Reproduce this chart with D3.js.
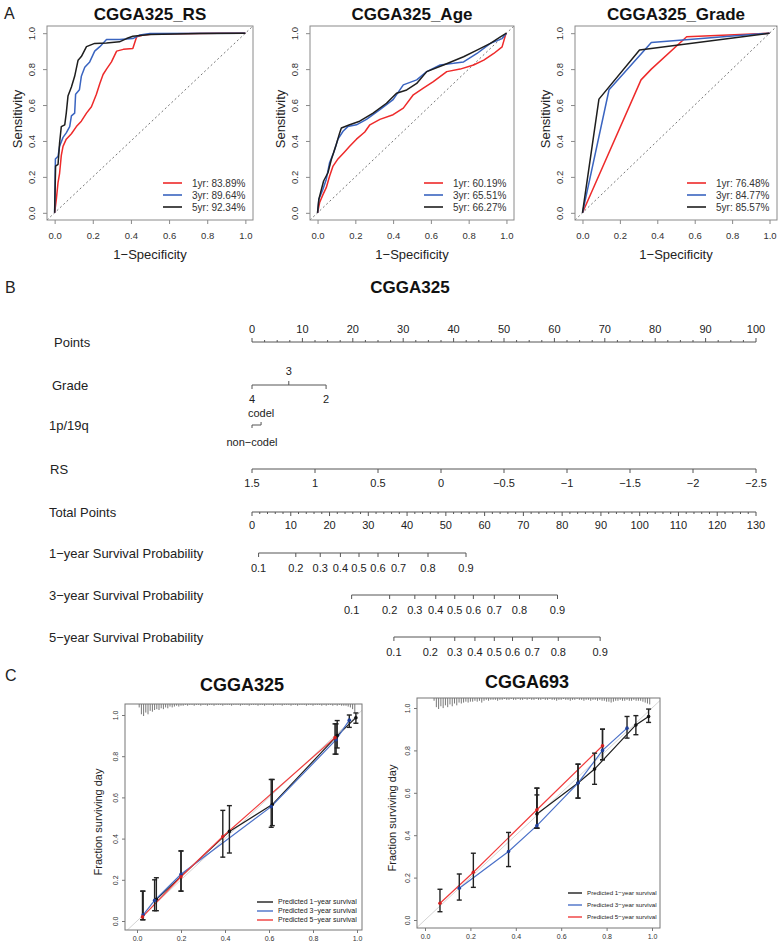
<!DOCTYPE html>
<html><head><meta charset="utf-8">
<script src="https://cdn.jsdelivr.net/npm/d3@7"></script>
<style>
body{margin:0;background:#fff}
svg{display:block}
</style>
</head><body>
<svg id="c" width="782" height="948"></svg>
<script>
// ---------------- DATA ----------------
// Panel A: ROC curves [1-specificity, sensitivity]
const rocYears = ["1yr","3yr","5yr"];
const rocColors = ["#ee2a2a","#3a64c0","#1e1e1e"];
const rocTitles = ["CGGA325_RS","CGGA325_Age","CGGA325_Grade"];
const aucRS = [83.89, 89.64, 92.34];
const aucAge = [60.19, 65.51, 66.27];
const aucGrade = [76.48, 84.77, 85.57];
const rocRS1 = [[0,0],[0.009,0.076],[0.018,0.17],[0.026,0.22],[0.035,0.32],[0.044,0.37],[0.061,0.41],[0.088,0.44],[0.114,0.48],[0.14,0.51],[0.167,0.555],[0.193,0.59],[0.219,0.66],[0.237,0.72],[0.254,0.77],[0.272,0.80],[0.298,0.84],[0.325,0.90],[0.36,0.91],[0.41,0.915],[0.43,0.98],[0.465,0.99],[0.52,0.996],[0.86,1.0],[1,1]];
const rocRS3 = [[0,0],[0.004,0.30],[0.018,0.315],[0.026,0.37],[0.044,0.42],[0.061,0.445],[0.079,0.48],[0.088,0.54],[0.105,0.555],[0.11,0.66],[0.13,0.685],[0.14,0.76],[0.158,0.81],[0.184,0.84],[0.21,0.90],[0.237,0.925],[0.272,0.965],[0.34,0.965],[0.41,0.97],[0.447,0.99],[0.5,0.998],[1,1]];
const rocRS5 = [[0,0],[0.005,0.26],[0.018,0.27],[0.026,0.39],[0.035,0.48],[0.053,0.49],[0.061,0.555],[0.07,0.65],[0.088,0.70],[0.105,0.76],[0.123,0.85],[0.14,0.87],[0.167,0.925],[0.21,0.943],[0.272,0.946],[0.34,0.952],[0.377,0.97],[0.41,0.983],[0.5,0.993],[0.76,0.998],[1,1]];
const rocAge1 = [[0,0],[0.011,0.057],[0.028,0.10],[0.046,0.14],[0.064,0.205],[0.082,0.26],[0.108,0.30],[0.144,0.34],[0.17,0.37],[0.206,0.41],[0.25,0.45],[0.277,0.49],[0.33,0.52],[0.40,0.546],[0.454,0.583],[0.507,0.657],[0.56,0.694],[0.613,0.73],[0.684,0.786],[0.755,0.80],[0.826,0.823],[0.88,0.85],[0.933,0.887],[0.977,0.924],[0.995,0.99],[1,1]];
const rocAge3 = [[0,0],[0.007,0.076],[0.028,0.13],[0.046,0.186],[0.064,0.28],[0.085,0.334],[0.108,0.41],[0.135,0.454],[0.16,0.48],[0.206,0.49],[0.259,0.52],[0.33,0.574],[0.40,0.63],[0.454,0.712],[0.525,0.74],[0.578,0.786],[0.649,0.823],[0.72,0.832],[0.773,0.84],[0.844,0.887],[0.915,0.943],[0.977,0.97],[1,1]];
const rocAge5 = [[0,0],[0.007,0.076],[0.032,0.177],[0.055,0.223],[0.073,0.297],[0.096,0.37],[0.117,0.445],[0.126,0.472],[0.17,0.49],[0.223,0.51],[0.294,0.555],[0.365,0.61],[0.418,0.666],[0.472,0.684],[0.525,0.72],[0.578,0.786],[0.667,0.823],[0.773,0.869],[0.844,0.906],[0.915,0.943],[0.968,0.98],[1,1]];
const rocGrade1 = [[0,0],[0.313,0.74],[0.368,0.80],[0.557,0.98],[1,1]];
const rocGrade3 = [[0,0],[0.142,0.685],[0.368,0.948],[1,1]];
const rocGrade5 = [[0,0],[0.088,0.633],[0.305,0.906],[1,1]];
const rocTicks = [0,0.2,0.4,0.6,0.8,1.0];

// Panel B: nomogram
const nomoTitle = "CGGA325";
const nomoLabels = ["Points","Grade","1p/19q","RS","Total Points","1\u2212year Survival Probability","3\u2212year Survival Probability","5\u2212year Survival Probability"];
const pointsTicks = [0,10,20,30,40,50,60,70,80,90,100];
const gradeLevels = ["4","3","2"];
const gradePoints = [0, 7.3, 14.7];
const codelLevels = ["non\u2212codel","codel"];
const codelPoints = [0, 1.8];
const rsTicks = [1.5,1,0.5,0,-0.5,-1,-1.5,-2,-2.5];
const rsRange = [1.5,-2.5];
const totalTicks = [0,10,20,30,40,50,60,70,80,90,100,110,120,130];
const survProbs = [0.1,0.2,0.3,0.4,0.5,0.6,0.7,0.8,0.9];
const surv1yrPoints = [1.7, 11.3, 17.6, 22.8, 27.6, 32.5, 37.8, 45.4, 55.2];
const surv3yrPoints = [25.7, 35.5, 42.0, 47.4, 52.3, 57.1, 62.5, 69.0, 78.8];
const surv5yrPoints = [36.6, 46.0, 52.3, 57.5, 62.5, 67.2, 72.3, 79.0, 89.8];

// Panel C: calibration curves
const calLegend = ["Predicted 1\u2212year survival","Predicted 3\u2212year survival","Predicted 5\u2212year survival"];
const calColors = ["#1e1e1e","#4a70c8","#f03c3c"];
const calMarkColors = ["#111","#1f3f9a","#d42020"];
const calTicks = [0,0.2,0.4,0.6,0.8,1.0];
// CGGA325
const c325_1yr = {pred:[0.088,0.42,0.615,0.91,0.995], obs:[0.105,0.435,0.565,0.90,0.987], lo:[0.05,0.33,0.463,0.84,0.96], hi:[0.21,0.56,0.687,0.973,1.01]};
const c325_3yr = {pred:[0.028,0.08,0.20,0.61,0.905,0.965], obs:[0.03,0.10,0.227,0.555,0.88,0.975], lo:[0.006,0.05,0.145,0.455,0.81,0.94], hi:[0.145,0.20,0.34,0.687,0.957,1.0]};
const c325_5yr = {pred:[0.025,0.20,0.39,0.90], obs:[0.02,0.215,0.41,0.89], lo:[0.006,0.145,0.31,0.81], hi:[0.145,0.34,0.537,0.957]};
// CGGA693
const c693_1yr = {pred:[0.493,0.674,0.747,0.929,0.985], obs:[0.50,0.646,0.712,0.92,0.96], lo:[0.433,0.575,0.64,0.874,0.932], hi:[0.59,0.735,0.787,0.964,0.995]};
const c693_3yr = {pred:[0.151,0.368,0.493,0.674,0.782,0.89], obs:[0.15,0.323,0.445,0.646,0.80,0.905], lo:[0.094,0.252,0.433,0.575,0.756,0.858], hi:[0.217,0.413,0.622,0.735,0.90,0.96]};
const c693_5yr = {pred:[0.066,0.213,0.493,0.782], obs:[0.079,0.225,0.52,0.822], lo:[0.039,0.154,0.433,0.756], hi:[0.145,0.315,0.622,0.90]};
// spike histograms of predicted values, counts per 0.01 bin (0.01 .. 0.99)
const rug325 = [4,12,14,10,12,8,9,7,6,7, 5,6,4,5,3,4,3,2,3,2, 2,1,2,1,1,2,1,1,2,1, 1,2,1,1,2,1,1,1,2,1, 1,1,2,1,1,1,2,1,1,1, 2,1,1,1,2,1,1,2,1,1, 1,2,1,1,1,2,1,1,1,2, 1,1,2,1,1,1,2,1,1,2, 1,1,1,2,1,2,1,1,2,1, 2,1,2,2,2,3,4,6,10];
const rug693 = [0,0,0,3,10,12,9,11,8,10, 7,9,6,8,5,6,5,4,5,4, 4,3,4,3,5,3,2,3,2,2, 2,3,2,2,1,2,2,1,2,2, 1,2,2,1,2,1,2,2,1,2, 2,1,2,2,1,2,2,3,2,2, 1,2,2,3,2,2,1,2,2,3, 2,2,3,2,2,3,2,3,3,4, 4,5,4,3,3,2,3,3,2,3, 3,2,3,3,3,4,5,6,7];

// ---------------- DRAW ----------------
const FONT = '"Liberation Sans", Arial, Helvetica, sans-serif';
const svg = d3.select("#c").style("font-family", FONT);
svg.append("rect").attr("width",782).attr("height",948).attr("fill","#fff");

// panel letters
[["A",4,19],["B",5,293],["C",5,681]].forEach(([t,x,y]) =>
  svg.append("text").attr("x",x).attr("y",y).attr("font-size",16).attr("fill","#222").text(t));

// ---- Panel A ----
const rocBoxes = [{l:47,r:253},{l:310,r:514},{l:575,r:777}];
const rocT = 26, rocB = 220;
const rocPanels = [
  {title:rocTitles[0], curves:[rocRS1,rocRS3,rocRS5], auc:aucRS},
  {title:rocTitles[1], curves:[rocAge1,rocAge3,rocAge5], auc:aucAge},
  {title:rocTitles[2], curves:[rocGrade1,rocGrade3,rocGrade5], auc:aucGrade}
];
rocPanels.forEach((p,i) => {
  const b = rocBoxes[i];
  const x = d3.scaleLinear([-0.04,1.04],[b.l,b.r]);
  const y = d3.scaleLinear([-0.04,1.04],[rocB,rocT]);
  const g = svg.append("g");
  g.append("text").attr("x",(b.l+b.r)/2).attr("y",20).attr("text-anchor","middle")
    .attr("font-weight","bold").attr("font-size",17).attr("fill","#111").text(p.title);
  g.append("line").attr("x1",x(-0.04)).attr("y1",y(-0.04)).attr("x2",x(1.04)).attr("y2",y(1.04))
    .attr("stroke","#666").attr("stroke-width",0.9).attr("stroke-dasharray","2,2.5");
  const line = d3.line().x(d=>x(d[0])).y(d=>y(d[1]));
  p.curves.forEach((c,k) => g.append("path").attr("d",line(c)).attr("fill","none")
    .attr("stroke",rocColors[k]).attr("stroke-width",1.5).attr("stroke-linejoin","round"));
  g.append("rect").attr("x",b.l).attr("y",rocT).attr("width",b.r-b.l).attr("height",rocB-rocT)
    .attr("fill","none").attr("stroke","#8a8a8a").attr("stroke-width",1);
  const ax = g.append("g").attr("transform",`translate(0,${rocB})`)
    .call(d3.axisBottom(x).tickValues(rocTicks).tickFormat(d3.format(".1f")).tickSize(4).tickPadding(8));
  const ay = g.append("g").attr("transform",`translate(${b.l},0)`)
    .call(d3.axisLeft(y).tickValues(rocTicks).tickFormat(d3.format(".1f")).tickSize(4));
  [ax,ay].forEach(a => { a.select(".domain").remove(); a.selectAll("line").attr("stroke","#8a8a8a");
    a.selectAll("text").attr("font-size",9.5).attr("fill","#333").style("font-family",FONT); });
  ay.selectAll("text").attr("transform","rotate(-90)").attr("x",0).attr("y",-12).attr("dy",0).attr("text-anchor","middle");
  g.append("text").attr("x",(b.l+b.r)/2).attr("y",259).attr("text-anchor","middle").attr("font-size",13).attr("fill","#222").text("1\u2212Specificity");
  g.append("text").attr("transform",`translate(${b.l-25},${(rocT+rocB)/2-4}) rotate(-90)`).attr("text-anchor","middle")
    .attr("font-size",13).attr("fill","#222").text("Sensitivity");
  // legend
  const lx = b.r - 90;
  rocYears.forEach((yr,k) => {
    const ly = 183 + k*12;
    g.append("line").attr("x1",lx).attr("x2",lx+19).attr("y1",ly).attr("y2",ly).attr("stroke",rocColors[k]).attr("stroke-width",1.6);
    g.append("text").attr("x",lx+29).attr("y",ly+3.6).attr("font-size",10).attr("fill","#333")
      .text(`${yr}: ${p.auc[k].toFixed(2)}%`);
  });
});

// ---- Panel B: nomogram ----
svg.append("text").attr("x",410).attr("y",293).attr("text-anchor","middle").attr("font-weight","bold")
  .attr("font-size",17).attr("fill","#111").text(nomoTitle);
const xP = d3.scaleLinear([0,100],[252,756]);
const xT = d3.scaleLinear([0,130],[252,756]);
const rsToPts = d3.scaleLinear(rsRange,[0,100]);
const rowY = [342,385,425,469,512,553,595,637];
const rowX = [54,52,49,50,49,49,49,49];
const nomo = svg.append("g").attr("fill","#222");
const lineCol = "#555";
nomoLabels.forEach((t,i) => nomo.append("text").attr("x",rowX[i]).attr("y",rowY[i]+4.5).attr("font-size",13).attr("fill","#222").text(t));
function hline(x1,x2,y){ nomo.append("line").attr("x1",x1).attr("x2",x2).attr("y1",y).attr("y2",y).attr("stroke",lineCol).attr("stroke-width",1); }
function tick(x,y,len){ nomo.append("line").attr("x1",x).attr("x2",x).attr("y1",y).attr("y2",y+len).attr("stroke",lineCol).attr("stroke-width",1); }
function lab(x,y,t,fs){ nomo.append("text").attr("x",x).attr("y",y).attr("text-anchor","middle").attr("font-size",fs||11).attr("fill","#222").text(t); }
// Points
hline(xP(0),xP(100),rowY[0]);
d3.range(0,100.01,2.5).forEach(v => tick(xP(v),rowY[0], (v%10===0)?-4:-2));
pointsTicks.forEach(v => lab(xP(v),rowY[0]-9,v));
// Grade
hline(xP(gradePoints[0]),xP(gradePoints[2]),rowY[1]);
gradeLevels.forEach((t,k) => {
  const up = k===1;
  tick(xP(gradePoints[k]),rowY[1], up?-4:4);
  lab(xP(gradePoints[k]), up? rowY[1]-10 : rowY[1]+18, t);
});
// 1p/19q
hline(xP(codelPoints[0]),xP(codelPoints[1]),rowY[2]);
tick(xP(codelPoints[0]),rowY[2],3); tick(xP(codelPoints[1]),rowY[2],-3);
lab(xP(codelPoints[0]),rowY[2]+21,codelLevels[0]);
lab(xP(codelPoints[1]),rowY[2]-8,codelLevels[1]);
// RS
hline(xP(rsToPts(rsRange[0])),xP(rsToPts(rsRange[1])),rowY[3]);
rsTicks.forEach(v => { tick(xP(rsToPts(v)),rowY[3],4); lab(xP(rsToPts(v)),rowY[3]+18, v<0?("\u2212"+Math.abs(v)):String(v)); });
// Total points
hline(xT(0),xT(130),rowY[4]);
d3.range(0,130.01,2).forEach(v => tick(xT(v),rowY[4], (v%10===0)?4:2));
totalTicks.forEach(v => lab(xT(v),rowY[4]+17,v));
// Survival probabilities
[surv1yrPoints,surv3yrPoints,surv5yrPoints].forEach((pts,r) => {
  const y = rowY[5+r];
  hline(xT(pts[0]),xT(pts[pts.length-1]),y);
  pts.forEach((p,k) => { tick(xT(p),y,4); lab(xT(p),y+19,survProbs[k].toFixed(1)); });
});

// ---- Panel C: calibration ----
function drawCal(cfg){
  const g = svg.append("g");
  const x = d3.scaleLinear([0,1],cfg.xr);
  const y = d3.scaleLinear([0,1],cfg.yr);
  const b = cfg.box;
  const cid = "clip"+cfg.id;
  g.append("clipPath").attr("id",cid).append("rect").attr("x",b.l).attr("y",b.t).attr("width",b.r-b.l).attr("height",b.b-b.t);
  g.append("text").attr("x",cfg.tx).attr("y",cfg.ty).attr("text-anchor","middle").attr("font-weight","bold")
    .attr("font-size",18).attr("fill","#111").text(cfg.title);
  const inner = g.append("g").attr("clip-path",`url(#${cid})`);
  inner.append("line").attr("x1",x(-0.1)).attr("y1",y(-0.1)).attr("x2",x(1.1)).attr("y2",y(1.1))
    .attr("stroke","#d4d4d4").attr("stroke-width",1);
  // spike histogram
  const len = d3.scaleLinear([0,d3.max(cfg.rug)],[0,cfg.rugMax]);
  cfg.rug.forEach((c,i) => { if(c>0) inner.append("line").attr("x1",x((i+1)/100)).attr("x2",x((i+1)/100))
      .attr("y1",b.t).attr("y2",b.t+len(c)).attr("stroke","#555").attr("stroke-width",0.8); });
  const line = d3.line().x(d=>x(d[0])).y(d=>y(d[1]));
  cfg.series.forEach((s,k) => {
    const pts = s.pred.map((p,j)=>[p,s.obs[j]]);
    inner.append("path").attr("d",line(pts)).attr("fill","none").attr("stroke",calColors[k]).attr("stroke-width",1.2);
  });
  cfg.series.forEach((s,k) => {
    s.pred.forEach((p,j) => {
      const xx = x(p);
      inner.append("line").attr("x1",xx).attr("x2",xx).attr("y1",y(s.lo[j])).attr("y2",y(s.hi[j])).attr("stroke","#222").attr("stroke-width",1.4);
      [s.lo[j],s.hi[j]].forEach(v => inner.append("line").attr("x1",xx-2.5).attr("x2",xx+2.5).attr("y1",y(v)).attr("y2",y(v)).attr("stroke","#222").attr("stroke-width",1.4));
    });
  });
  cfg.series.forEach((s,k) => s.pred.forEach((p,j) => inner.append("circle").attr("cx",x(p)).attr("cy",y(s.obs[j])).attr("r",1.8).attr("fill",calMarkColors[k])));
  g.append("rect").attr("x",b.l).attr("y",b.t).attr("width",b.r-b.l).attr("height",b.b-b.t).attr("fill","none").attr("stroke","#777");
  const ax = g.append("g").attr("transform",`translate(0,${b.b})`).call(d3.axisBottom(x).tickValues(calTicks).tickFormat(d3.format(".1f")).tickSize(3).tickPadding(3));
  const ay = g.append("g").attr("transform",`translate(${b.l},0)`).call(d3.axisLeft(y).tickValues(calTicks).tickFormat(d3.format(".1f")).tickSize(3));
  [ax,ay].forEach(a => { a.select(".domain").remove(); a.selectAll("line").attr("stroke","#777");
    a.selectAll("text").attr("font-size",7).attr("fill","#333").style("font-family",FONT); });
  ay.selectAll("text").attr("transform","rotate(-90)").attr("x",0).attr("y",-7).attr("dy",0).attr("text-anchor","middle");
  g.append("text").attr("transform",`translate(${cfg.ylx},${cfg.yly}) rotate(-90)`).attr("text-anchor","middle")
    .attr("font-size",11).attr("fill","#222").text("Fraction surviving day");
  calLegend.forEach((t,k) => {
    const ly = cfg.leg.y + k*cfg.leg.dy;
    g.append("line").attr("x1",cfg.leg.x).attr("x2",cfg.leg.x+cfg.leg.w).attr("y1",ly).attr("y2",ly).attr("stroke",calColors[k]).attr("stroke-width",1.4);
    g.append("text").attr("x",cfg.leg.x+cfg.leg.w+5).attr("y",ly+2.3).attr("font-size",cfg.leg.fs).attr("fill","#222").text(t);
  });
}
drawCal({id:"a", title:"CGGA325", tx:242, ty:691, box:{l:125,r:362,t:704,b:930}, xr:[137,357], yr:[921,715],
  series:[c325_1yr,c325_3yr,c325_5yr], rug:rug325, rugMax:12, ylx:102, yly:822,
  leg:{x:257,y:902,dy:9,w:16,fs:7}});
drawCal({id:"b", title:"CGGA693", tx:527, ty:688, box:{l:417,r:660,t:698,b:928}, xr:[425,652], yr:[920,708],
  series:[c693_1yr,c693_3yr,c693_5yr], rug:rug693, rugMax:11, ylx:396, yly:818,
  leg:{x:568,y:893,dy:12,w:14,fs:6.2}});
</script>
</body></html>
